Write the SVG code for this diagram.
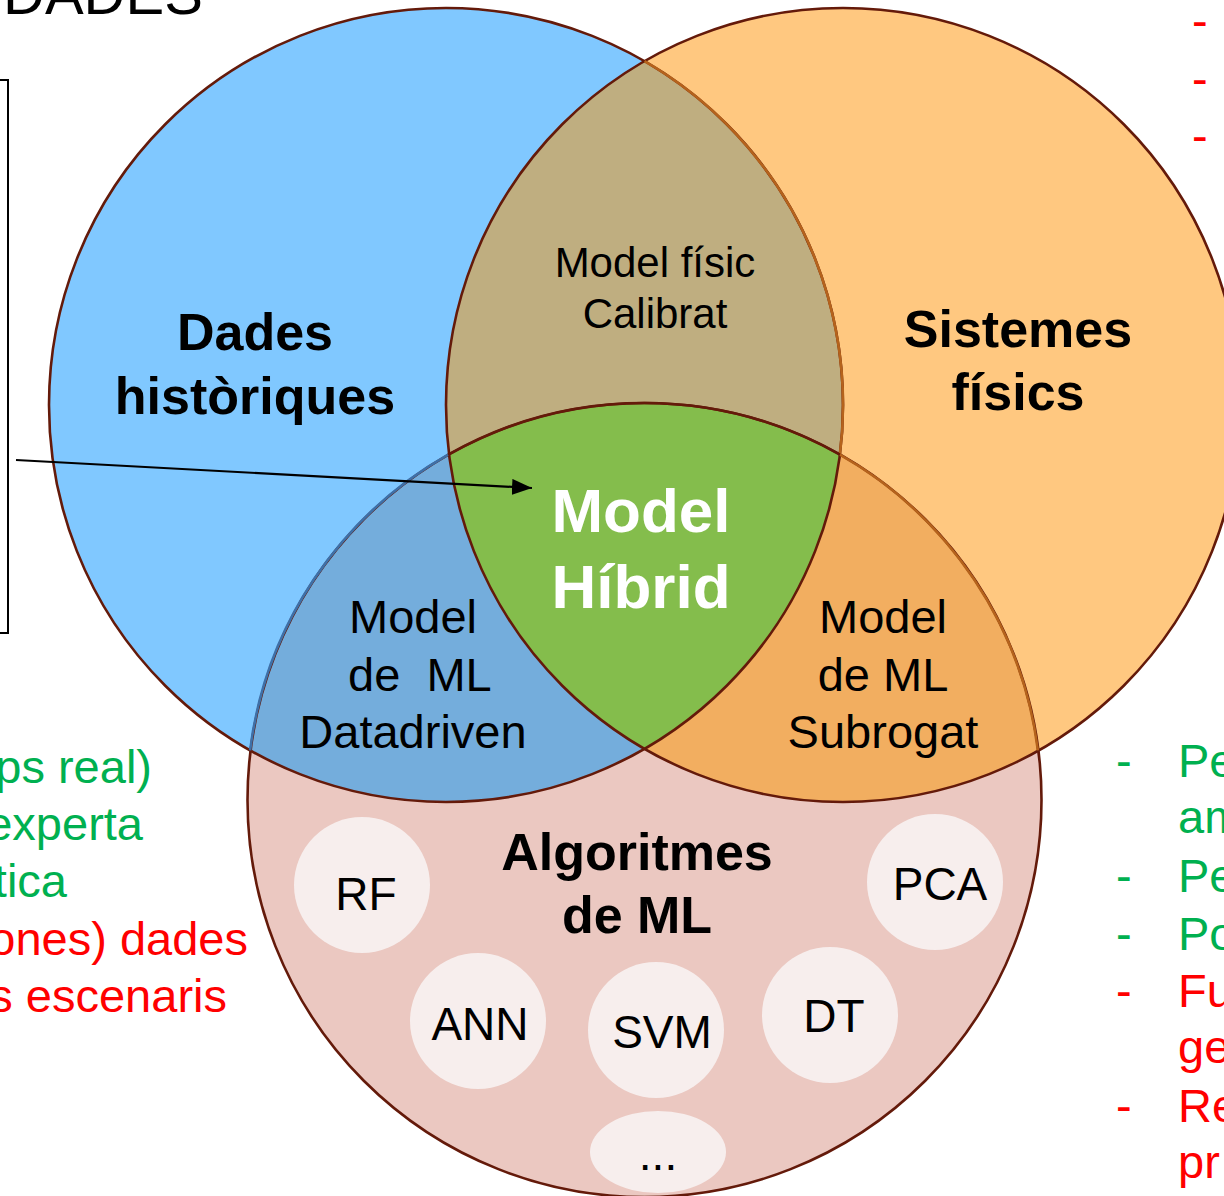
<svg xmlns="http://www.w3.org/2000/svg" width="1224" height="1196" viewBox="0 0 1224 1196">
<style>
text{font-family:"Liberation Sans",Arial,sans-serif;}
.b{font-weight:bold;}
.c{text-anchor:middle;}
.lbl{font-size:47px;fill:#000;}
.big{font-size:52px;font-weight:bold;fill:#000;text-anchor:middle;}
.alg{font-size:46px;fill:#000;text-anchor:middle;}
.algc{fill:#F7EEED;}
.g{fill:#00B050;font-size:47px;}
.r{fill:#FF0000;font-size:47px;}
.edge{fill:none;stroke:#641A0A;stroke-width:2.6;}
</style>
<defs>
<clipPath id="cb"><circle cx="446" cy="405" r="397"/></clipPath>
<clipPath id="co"><circle cx="843" cy="405" r="397"/></clipPath>
<clipPath id="cp"><circle cx="644.5" cy="800" r="397"/></clipPath>
<marker id="arr" viewBox="0 0 20 16" refX="20" refY="8" markerWidth="20" markerHeight="16" markerUnits="userSpaceOnUse" orient="auto"><path d="M0,0 L20,8 L0,16 Z" fill="#000"/></marker>
</defs>

<!-- top-left title (cropped) -->
<text x="3" y="14" font-size="58" fill="#000">DADES</text>
<rect x="-20" y="80" width="28" height="553" fill="none" stroke="#000" stroke-width="2"/>

<!-- fills -->
<g id="venn-fills">
<circle cx="644.5" cy="800" r="397" fill="#EBC8C1"/>
<circle cx="446" cy="405" r="397" fill="#80C8FF"/>
<circle cx="843" cy="405" r="397" fill="#FFC880"/>
<circle cx="843" cy="405" r="397" fill="#BFAE80" clip-path="url(#cb)"/>
<circle cx="446" cy="405" r="397" fill="#74ADDC" clip-path="url(#cp)"/>
<circle cx="843" cy="405" r="397" fill="#F2AE60" clip-path="url(#cp)"/>
<g clip-path="url(#cb)"><circle cx="843" cy="405" r="397" fill="#84BD4C" clip-path="url(#cp)"/></g>
</g>

<!-- outlines -->
<g id="venn-edges">
<circle class="edge" cx="644.5" cy="800" r="397"/>
<circle class="edge" cx="446" cy="405" r="397"/>
<circle class="edge" cx="843" cy="405" r="397"/>
<path d="M250.1,750.3 A397,397 0 0 1 448.1,454.7" fill="none" stroke="#3E70A8" stroke-width="2.6"/>
<path d="M839.9,454.7 A397,397 0 0 1 1037.9,750.3" fill="none" stroke="#B5631C" stroke-width="2.6"/>
<path d="M644.5,61.2 A397,397 0 0 1 839.9,454.7" fill="none" stroke="#B5631C" stroke-width="2.6"/>
<path d="M448.1,454.7 A397,397 0 0 1 839.9,454.7" fill="none" stroke="#641A0A" stroke-width="2.6"/>
</g>

<g id="dades">
<text class="big" x="255" y="350">Dades</text>
<text class="big" x="255" y="414">històriques</text>
</g>
<g id="sistemes">
<text class="big" x="1018" y="347">Sistemes</text>
<text class="big" x="1018" y="410">físics</text>
</g>
<g id="calibrat">
<text class="c" x="655" y="277" font-size="42" fill="#000">Model físic</text>
<text class="c" x="655" y="328" font-size="42" fill="#000">Calibrat</text>
</g>
<g id="hibrid">
<text class="c b" x="641" y="532" font-size="62" fill="#FFFFFF">Model</text>
<text class="c b" x="641" y="608" font-size="62" fill="#FFFFFF">Híbrid</text>
</g>
<g id="datadriven">
<text class="c lbl" x="413" y="633">Model</text>
<text class="lbl" x="348" y="691" xml:space="preserve">de  ML</text>
<text class="c lbl" x="413" y="748">Datadriven</text>
</g>
<g id="subrogat">
<text class="c lbl" x="883" y="633">Model</text>
<text class="c lbl" x="883" y="691">de ML</text>
<text class="c lbl" x="883" y="748">Subrogat</text>
</g>
<g id="algoritmes">
<text class="big" x="637" y="870">Algoritmes</text>
<text class="big" x="637" y="933">de ML</text>
</g>

<g id="rf"><circle class="algc" cx="362" cy="885" r="68"/><text class="alg" x="366" y="910">RF</text></g>
<g id="pca"><circle class="algc" cx="935" cy="882" r="68"/><text class="alg" x="940" y="900">PCA</text></g>
<g id="ann"><circle class="algc" cx="478" cy="1021" r="68"/><text class="alg" x="480" y="1040">ANN</text></g>
<g id="svm"><circle class="algc" cx="656" cy="1030" r="68"/><text class="alg" x="662" y="1048">SVM</text></g>
<g id="dt"><circle class="algc" cx="830" cy="1015" r="68"/><text class="alg" x="834" y="1032">DT</text></g>
<g id="more"><ellipse class="algc" cx="658" cy="1152" rx="68" ry="41"/><text class="alg" x="658" y="1170">...</text></g>

<g id="connectors">
<line x1="16" y1="460" x2="532" y2="488" stroke="#000" stroke-width="2.2" marker-end="url(#arr)"/>
</g>

<!-- left text (cropped) -->
<g id="left-text">
<text class="g" x="152" y="783" text-anchor="end">ps real)</text>
<text class="g" x="143" y="840" text-anchor="end">experta</text>
<text class="g" x="67" y="897" text-anchor="end">tica</text>
<text class="r" x="248" y="955" text-anchor="end">ones) dades</text>
<text class="r" x="227" y="1012" text-anchor="end">s escenaris</text>
</g>

<!-- top right dashes (cropped) -->
<g id="top-right-text">
<text class="r" x="1192" y="37">-</text>
<text class="r" x="1192" y="95">-</text>
<text class="r" x="1192" y="152">-</text>
</g>

<!-- right text (cropped) -->
<g id="right-text">
<text class="g" x="1116" y="777">-</text><text class="g" x="1178" y="777">Pe</text>
<text class="g" x="1178" y="833">am</text>
<text class="g" x="1116" y="892">-</text><text class="g" x="1178" y="892">Pe</text>
<text class="g" x="1116" y="950">-</text><text class="g" x="1178" y="950">Po</text>
<text class="r" x="1116" y="1007">-</text><text class="r" x="1178" y="1007">Fu</text>
<text class="r" x="1178" y="1063">ge</text>
<text class="r" x="1116" y="1122">-</text><text class="r" x="1178" y="1122">Re</text>
<text class="r" x="1178" y="1178">pr</text>
</g>
</svg>
